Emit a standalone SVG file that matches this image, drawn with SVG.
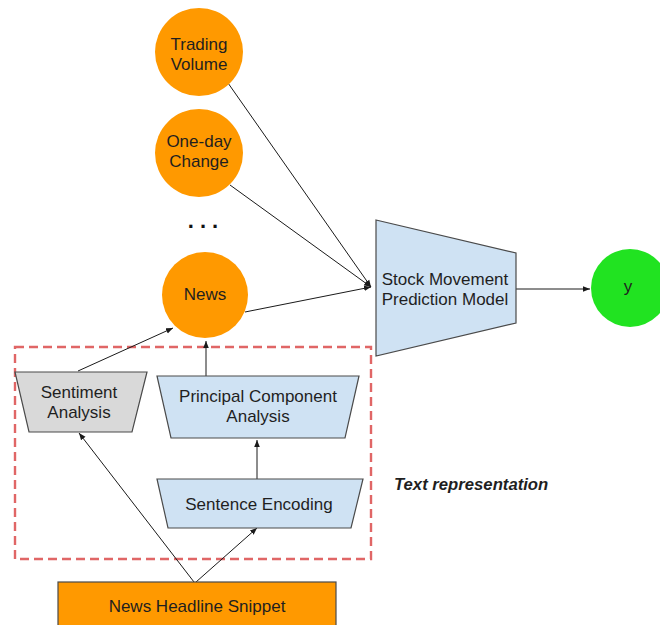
<svg xmlns="http://www.w3.org/2000/svg" width="660" height="625" viewBox="0 0 660 625">
  <defs>
    <marker id="arrow" viewBox="0 0 10 10" refX="10" refY="5" markerWidth="7" markerHeight="7" orient="auto" markerUnits="userSpaceOnUse">
      <path d="M0,1 L10,5 L0,9 z" fill="#1a1a1a"/>
    </marker>
    <style>
      .lbl { font-family: "Liberation Sans", Arial, sans-serif; font-size: 17px; fill: #1f1f1f; text-anchor: middle; }
      .orange { fill: #ff9900; }
      .blue { fill: #cfe2f3; stroke: #4a4a4a; stroke-width: 1.2; }
      .gray { fill: #d9d9d9; stroke: #4a4a4a; stroke-width: 1.2; }
      .edge { stroke: #1a1a1a; stroke-width: 1; fill: none; marker-end: url(#arrow); }
    </style>
  </defs>
  <rect width="660" height="625" fill="#ffffff"/>

  <!-- text representation group -->
  <g id="text-representation">
    <rect x="15" y="347" width="356" height="212" fill="none" stroke="#e06666" stroke-width="2.4" stroke-dasharray="9 5"/>
    <text x="394" y="490" style="font-family: 'Liberation Sans', Arial, sans-serif; font-size: 16.7px; font-weight: bold; font-style: italic; fill: #1f1f1f;">Text representation</text>
  </g>

  <!-- connectors -->
  <g id="connectors">
    <line class="edge" x1="228" y1="83" x2="371" y2="287"/>
    <line class="edge" x1="230" y1="185" x2="371" y2="287"/>
    <line class="edge" x1="245" y1="312" x2="371" y2="287"/>
    <line class="edge" x1="516" y1="289" x2="590" y2="289"/>
    <line class="edge" x1="78" y1="371" x2="173" y2="328"/>
    <line class="edge" x1="206" y1="376" x2="206" y2="341"/>
    <line class="edge" x1="257" y1="479" x2="257" y2="440"/>
    <line class="edge" x1="194" y1="582" x2="79" y2="433"/>
    <line class="edge" x1="196" y1="582" x2="257" y2="528"/>
  </g>

  <g id="trading-volume">
    <circle class="orange" cx="199" cy="52" r="44"/>
    <text class="lbl" x="199" y="50">Trading</text>
    <text class="lbl" x="199" y="70">Volume</text>
  </g>

  <g id="one-day-change">
    <circle class="orange" cx="199" cy="153" r="44"/>
    <text class="lbl" x="199" y="147">One-day</text>
    <text class="lbl" x="199" y="167">Change</text>
  </g>

  <g id="ellipsis">
    <text x="206" y="228" style="font-family: 'Liberation Sans', Arial, sans-serif; font-size: 22px; font-weight: bold; fill: #111; text-anchor: middle; letter-spacing: 6px;">...</text>
  </g>

  <g id="news">
    <circle class="orange" cx="205" cy="295" r="43"/>
    <text class="lbl" x="205" y="300">News</text>
  </g>

  <g id="stock-model">
    <polygon class="blue" points="376,220 516,253 516,323 376,356"/>
    <text class="lbl" x="445" y="285">Stock Movement</text>
    <text class="lbl" x="445" y="305">Prediction Model</text>
  </g>

  <g id="output-y">
    <circle cx="630" cy="288" r="39" fill="#21e321"/>
    <text class="lbl" x="628" y="292">y</text>
  </g>

  <g id="sentiment-analysis">
    <polygon class="gray" points="15,372 147,372 132,432 29,432"/>
    <text class="lbl" x="79" y="398">Sentiment</text>
    <text class="lbl" x="79" y="418">Analysis</text>
  </g>

  <g id="pca">
    <polygon class="blue" points="157,376 359,376 345,438 171,438"/>
    <text class="lbl" x="258" y="402">Principal Component</text>
    <text class="lbl" x="258" y="422">Analysis</text>
  </g>

  <g id="sentence-encoding">
    <polygon class="blue" points="157,479 363,479 351,528 168,528"/>
    <text class="lbl" x="259" y="510">Sentence Encoding</text>
  </g>

  <g id="headline">
    <rect x="58" y="582" width="278" height="50" fill="#ff9900" stroke="#4a4a4a" stroke-width="1.2"/>
    <text class="lbl" x="197" y="612">News Headline Snippet</text>
  </g>
</svg>
